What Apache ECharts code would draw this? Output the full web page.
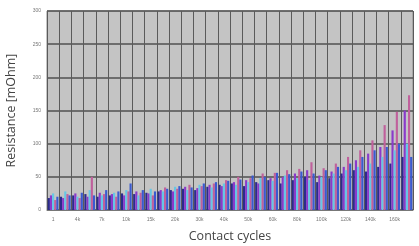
<!DOCTYPE html>
<html>
<head>
<meta charset="utf-8">
<script src="https://cdn.jsdelivr.net/npm/echarts@6/dist/echarts.min.js"></script>
<style>
  html, body { margin: 0; padding: 0; background: #fff; }
  #chart { width: 419px; height: 246px; }
</style>
</head>
<body>
<div id="chart"></div>
<script>
// contact cycle categories (only every other one is labelled in the picture)
const categories = [
  '1', '2k', '4k', '5k', '7k', '8k', '10k', '12k', '15k', '17k',
  '20k', '25k', '30k', '35k', '40k', '45k', '50k', '55k', '60k', '70k',
  '80k', '90k', '100k', '110k', '120k', '130k', '140k', '150k', '160k', '170k'
]
const yTicks = [0, 50, 100, 150, 200, 250, 300]

const seriesNames = ['S1', 'S2', 'S3', 'S4', 'S5']
const seriesColors = ['#2b2b8c', '#8a3acb', '#66c6e6', '#c0609c', '#3a5ad0']

const s1 = [18, 20, 22, 24, 20, 22, 25, 24, 26, 28, 30, 32, 30, 35, 38, 40, 36, 42, 45, 40, 45, 50, 42, 48, 55, 60, 58, 65, 70, 80]
const s2 = [22, 18, 25, 20, 26, 24, 22, 28, 25, 30, 28, 35, 33, 38, 36, 42, 45, 40, 48, 50, 55, 60, 52, 58, 65, 75, 85, 95, 120, 150]
const s3 = [25, 28, 20, 30, 22, 26, 30, 22, 32, 28, 35, 30, 38, 34, 40, 38, 42, 48, 44, 52, 48, 45, 50, 55, 60, 65, 70, 80, 90, 100]
const s4 = [15, 24, 18, 50, 24, 20, 28, 26, 22, 34, 32, 38, 36, 40, 45, 50, 48, 55, 56, 60, 62, 72, 63, 70, 80, 90, 105, 128, 148, 173]
const s5 = [20, 22, 26, 22, 30, 28, 40, 30, 28, 32, 36, 34, 40, 42, 44, 46, 52, 50, 56, 54, 58, 55, 60, 65, 70, 80, 90, 95, 100, 80]
const allSeries = [s1, s2, s3, s4, s5]

const chart = echarts.init(document.getElementById('chart'))

const option = {
  animation: false,
  backgroundColor: '#fff',
  grid: {
    left: 47,
    right: 6,
    top: 11,
    bottom: 36,
    outerBoundsMode: 'none',
    show: true,
    backgroundColor: '#c4c4c4',
    borderColor: '#8a8a8a',
    borderWidth: 1
  },
  xAxis: {
    type: 'category',
    data: categories,
    name: 'Contact cycles',
    nameLocation: 'middle',
    nameGap: 20,
    nameTextStyle: { fontFamily: 'Open Sans', fontSize: 12.5, color: '#444' },
    axisLine: { lineStyle: { color: '#777' } },
    axisTick: { show: false },
    axisLabel: { interval: 1, fontSize: 5, color: '#777', margin: 7 },
    splitLine: { show: true, interval: 0, lineStyle: { color: '#5a5a5a', width: 1 } }
  },
  yAxis: {
    type: 'value',
    min: yTicks[0],
    max: yTicks[yTicks.length - 1],
    interval: 50,
    name: 'Resistance [mOhm]',
    nameLocation: 'middle',
    nameGap: 29,
    nameTextStyle: { fontFamily: 'Open Sans', fontSize: 12.5, color: '#444' },
    axisLine: { show: false },
    axisTick: { show: false },
    axisLabel: { fontSize: 5, color: '#777', margin: 6 },
    splitLine: { lineStyle: { color: '#505050', width: 1.5 } }
  },
  series: allSeries.map((data, i) => ({
    name: seriesNames[i],
    type: 'bar',
    data: data,
    barGap: '0%',
    barCategoryGap: '12%',
    itemStyle: { color: seriesColors[i] }
  }))
}

chart.setOption(option)
</script>
</body>
</html>
